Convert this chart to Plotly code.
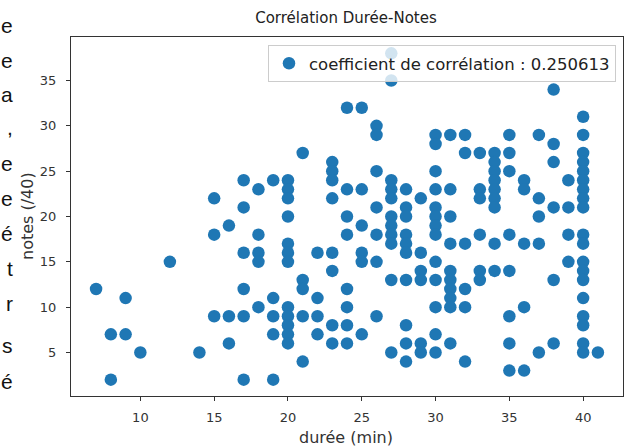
import plotly.graph_objects as go

# ---- data ----
duree = (
    [7] + [8] * 2 + [9] * 2 + [10] + [12] + [14] + [15] * 3 + [16] * 3 + [17] * 6 + [18] * 5 + [19] * 5
    + [20] * 12 + [21] * 5 + [22] * 4 + [23] * 8 + [24] * 8 + [25] * 6 + [26] * 7 + [27] * 11
    + [28] * 10 + [29] * 6 + [30] * 13 + [31] * 10 + [32] * 6 + [33] * 6 + [34] * 9 + [35] * 8
    + [36] * 5 + [37] * 5 + [38] * 6 + [39] * 4 + [40] * 19 + [41]
)
notes = (
    [12] + [7, 2] + [11, 7] + [5] + [15] + [5] + [22, 18, 9] + [19, 9, 6] + [24, 21, 16, 12, 9, 2]
    + [23, 18, 16, 15, 10] + [24, 11, 9, 7, 2]
    + [24, 23, 22, 20, 17, 16, 15, 10, 9, 8, 7, 6]
    + [27, 13, 12, 9, 4] + [16, 11, 9, 7] + [26, 25, 24, 22, 16, 14, 8, 6]
    + [32, 23, 20, 18, 12, 10, 8, 6] + [32, 23, 19, 16, 15, 7] + [30, 29, 25, 21, 18, 15, 9]
    + [38, 35, 24, 23, 22, 20, 19, 18, 17, 13, 5]
    + [23, 21, 20, 18, 17, 16, 13, 8, 6, 4] + [22, 16, 14, 13, 6, 5]
    + [29, 28, 25, 23, 21, 20, 19, 18, 15, 13, 10, 7, 5]
    + [29, 23, 20, 17, 14, 13, 12, 11, 10, 6] + [29, 27, 17, 12, 10, 4]
    + [27, 23, 22, 18, 14, 13] + [27, 26, 25, 24, 23, 22, 21, 17, 14]
    + [29, 27, 25, 18, 14, 9, 6, 3] + [24, 23, 17, 10, 3] + [29, 22, 20, 17, 5]
    + [34, 28, 26, 21, 13, 6] + [24, 21, 18, 15]
    + [31, 29, 27, 26, 25, 24, 23, 22, 21, 18, 17, 15, 14, 13, 11, 9, 8, 6, 5]
    + [5]
)
coef_label = "coefficient de corrélation : 0.250613"
title_text = "Corrélation Durée-Notes"
x_label = "durée (min)"
y_label = "notes (/40)"
x_ticks = [10, 15, 20, 25, 30, 35, 40]
y_ticks = [5, 10, 15, 20, 25, 30, 35]

# cut-off page text on the left edge
side_letters = ["e", "e", "a", ",", "e", "e", "é", "t", "r", "s", "é"]
side_y_px = [25, 60, 94, 128, 163, 198, 233, 268, 303, 345, 381]

W, H = 624, 447
ML, MR, MT, MB = 71, 1, 37, 51
PW, PH = W - ML - MR, H - MT - MB

fig = go.Figure()
fig.add_trace(go.Scatter(
    x=duree, y=notes, mode="markers", name=coef_label,
    marker=dict(color="#1f77b4", size=12.5, line=dict(width=0)),
))

axis_common = dict(
    showgrid=False, zeroline=False, showline=True, mirror=True,
    linecolor="#333333", linewidth=1, ticks="outside", ticklen=4,
    tickcolor="#333333", tickfont=dict(family="DejaVu Sans", size=13, color="#333333"),
)
fig.update_xaxes(range=[5.3, 42.7], tickvals=x_ticks, ticklabelstandoff=5, **axis_common)
fig.update_yaxes(range=[0.2, 39.8], tickvals=y_ticks, ticklabelstandoff=7, **axis_common)

annotations = []
for ch, py in zip(side_letters, side_y_px):
    annotations.append(dict(
        text=ch, xref="paper", yref="paper",
        x=(15 - ML) / PW, y=(H - MB - py) / PH,
        xanchor="right", yanchor="middle", showarrow=False,
        font=dict(family="Liberation Sans", size=21, color="#111111"),
    ))
annotations.append(dict(
    text=x_label, xref="paper", yref="paper", x=(346 - ML) / PW, y=(H - MB - 437) / PH,
    xanchor="center", yanchor="middle", showarrow=False,
    font=dict(family="DejaVu Sans", size=16, color="#333333"),
))
annotations.append(dict(
    text=y_label, xref="paper", yref="paper", x=(27 - ML) / PW, y=(H - MB - 216) / PH,
    xanchor="center", yanchor="middle", showarrow=False, textangle=-90,
    font=dict(family="DejaVu Sans", size=16, color="#333333"),
))

fig.update_layout(
    width=W, height=H,
    margin=dict(l=ML, r=MR, t=MT, b=MB),
    paper_bgcolor="white", plot_bgcolor="white",
    title=dict(text=title_text, x=346 / W, xanchor="center", y=1 - 18 / H,
               yanchor="middle", font=dict(family="DejaVu Sans", size=15, color="#222222")),
    showlegend=True,
    legend=dict(
        x=(616 - ML) / PW, y=(H - MB - 45) / PH, xanchor="right", yanchor="top",
        bgcolor="rgba(255,255,255,0.8)", bordercolor="#cccccc", borderwidth=1,
        font=dict(family="DejaVu Sans", size=16.5, color="#222222"),
    ),
    annotations=annotations,
)

fig.write_html("out.html", config={"displayModeBar": False},
               post_script="document.body.style.margin='0px';")
